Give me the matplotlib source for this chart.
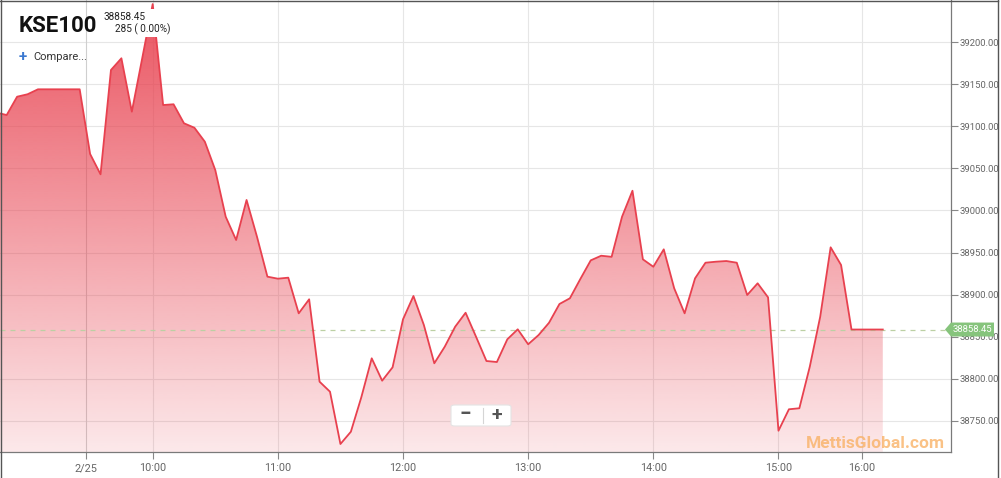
import numpy as np
import matplotlib
matplotlib.use('Agg')
import matplotlib.pyplot as plt
from matplotlib.patches import Rectangle, FancyBboxPatch, Polygon
from matplotlib.lines import Line2D

plt.rcParams['font.family'] = ['Roboto', 'DejaVu Sans']

# 5 minute bars on an ordinal axis, 0 = 10:00
bar_idx = np.arange(-15, 71)
kse100 = [39116.5, 39113.5, 39135.3, 39138.2, 39144.1, 39144.1, 39144.1, 39144.1, 39144.1,
          39067.2, 39043.0, 39167.1, 39181.0, 39117.5, 39181.3,
          39245.5, 39125.4, 39126.3, 39103.7, 39098.4, 39081.8, 39048.1, 38992.6, 38964.9,
          39012.5, 38968.8, 38921.3,
          38918.9, 38920.1, 38877.7, 38894.4, 38796.4, 38784.5, 38722.3, 38736.9, 38777.8,
          38824.2, 38797.6, 38813.5,
          38870.6, 38898.3, 38863.8, 38818.3, 38838.0, 38861.8, 38878.4, 38849.9, 38821.0,
          38819.8, 38846.8, 38858.7,
          38840.9, 38851.9, 38866.5, 38888.8, 38895.6, 38918.5, 38940.7, 38946.2, 38944.9,
          38992.6, 39023.5, 38941.9,
          38933.1, 38953.8, 38907.5, 38877.7, 38919.3, 38937.9, 38939.1, 38939.9, 38937.9,
          38899.5, 38913.4, 38896.7,
          38738.1, 38763.6, 38764.8, 38814.2, 38873.7, 38956.2, 38935.2, 38858.45,
          38858.45, 38858.45, 38858.45]
last_price = 38858.45
change_txt = '285 ( 0.00%)'

tick_pos = [-6.4, 0, 12, 24, 36, 48, 60, 68]
tick_lbl = ['2/25', '10:00', '11:00', '12:00', '13:00', '14:00', '15:00', '16:00']
y_ticks = np.arange(38750, 39201, 50)

W, H = 1001, 478
fig = plt.figure(figsize=(W / 100, H / 100), dpi=100)
ax = fig.add_axes([0.0, 1 - 452 / H, 951 / W, 452 / H])

def px(x, y):
    # figure pixel (from top-left) -> figure fraction
    return x / W, 1 - y / H

xmin, xmax = -14.64, 76.54
ymin, ymax = 38712.8, 39250.3
ax.set_xlim(xmin, xmax)
ax.set_ylim(ymin, ymax)

red = '#e8414f'
area = ax.fill_between(bar_idx, kse100, ymin, facecolor='none', edgecolor='none')
grad = np.zeros((256, 1, 4))
grad[:, 0, 0] = 232 / 255
grad[:, 0, 1] = 65 / 255
grad[:, 0, 2] = 79 / 255
grad[:, 0, 3] = np.linspace(0.9, 0.12, 256)
img = ax.imshow(grad, aspect='auto', extent=[xmin, xmax, ymin, max(kse100)],
                origin='upper', zorder=1, interpolation='bilinear')
img.set_clip_path(area.get_paths()[0], transform=ax.transData)
ax.plot(bar_idx, kse100, color=red, lw=1.3, zorder=3)

ax.axhline(last_price, color='#bcd0a4', lw=0.9, ls=(0, (4, 4)), zorder=2)

# grid
for v in y_ticks:
    ax.axhline(v, color='#e6e6e6', lw=0.8, zorder=0)
for i, p in enumerate(tick_pos):
    ax.axvline(p, color='#cfcfcf' if i == 0 else '#e6e6e6', lw=0.8, zorder=0)

ax.set_xticks(tick_pos)
ax.set_xticklabels(tick_lbl)
ax.yaxis.tick_right()
ax.set_yticks(y_ticks)
ax.set_yticklabels(['%.2f' % v for v in y_ticks])
ax.tick_params(axis='x', length=5, width=0.8, color='#888888', labelsize=7.8,
               labelcolor='#666666', pad=3)
ax.tick_params(axis='y', length=5, width=0.8, color='#888888', labelsize=6.8,
               labelcolor='#666666', pad=1.5)
for s in ['left', 'top']:
    ax.spines[s].set_visible(False)
for s in ['right', 'bottom']:
    ax.spines[s].set_color('#7a7a7a')
    ax.spines[s].set_linewidth(0.9)

# white box behind the price header
fig.add_artist(Rectangle(px(98, 37), 80 / W, 28 / H, facecolor='white',
                         edgecolor='none', zorder=5))
fig.text(*px(19, 31.5), 'KSE100', fontsize=16, fontweight='bold',
         color='#111111', zorder=6)
fig.text(*px(104, 19.5), '%.2f' % last_price, fontsize=7.2, color='#222222', zorder=6)
fig.text(*px(115, 32.5), change_txt, fontsize=7.2, color='#222222', zorder=6)
fig.text(*px(19, 57), '+', fontsize=11, fontweight='bold', color='#3a78d0',
         va='center', zorder=6)
fig.text(*px(33, 57), 'Compare...', fontsize=8, color='#333333', va='center', zorder=6)

# zoom buttons
btn = FancyBboxPatch(px(451, 426), 60 / W, 21 / H, boxstyle='round,pad=0,rounding_size=0.004',
                     facecolor='white', edgecolor='#e4e4e4', lw=0.8, zorder=6)
fig.add_artist(btn)
fig.add_artist(Line2D([483 / W, 483 / W], [1 - 408 / H, 1 - 423 / H], color='#d5d5d5',
                      lw=0.8, zorder=7))
fig.text(*px(465, 415), '\u2212', fontsize=15, fontweight='bold', color='#555555',
         ha='center', va='center', zorder=7)
fig.text(*px(497, 415), '+', fontsize=14, fontweight='bold', color='#555555',
         ha='center', va='center', zorder=7)

# watermark
fig.text(*px(875, 443), 'MettisGlobal.com', fontsize=12.5, fontweight='bold',
         color='#f9ae5e', alpha=0.75, ha='center', va='center', zorder=6)

# last price flag on the axis
tr = ax.get_yaxis_transform()
flag = Polygon([(945 / 951, last_price), (951 / 951, last_price + 8.3),
                (994 / 951, last_price + 8.3), (994 / 951, last_price - 8.3),
                (951 / 951, last_price - 8.3)], closed=True, transform=tr,
               facecolor='#86c47c', edgecolor='none', clip_on=False, zorder=8)
ax.add_patch(flag)
ax.text(972 / 951, last_price, '%.2f' % last_price, transform=tr, fontsize=6.8,
        color='white', ha='center', va='center', zorder=9, clip_on=False)

# outer frame
for xs, ys in [([0.5, 0.5], [0, H]), ([0, 998], [0.5, 0.5]), ([997.5, 997.5], [0, H])]:
    fig.add_artist(Line2D([x / W for x in xs], [1 - y / H for y in ys],
                          color='#555555', lw=1.0))

fig.savefig('out.png', dpi=100)
